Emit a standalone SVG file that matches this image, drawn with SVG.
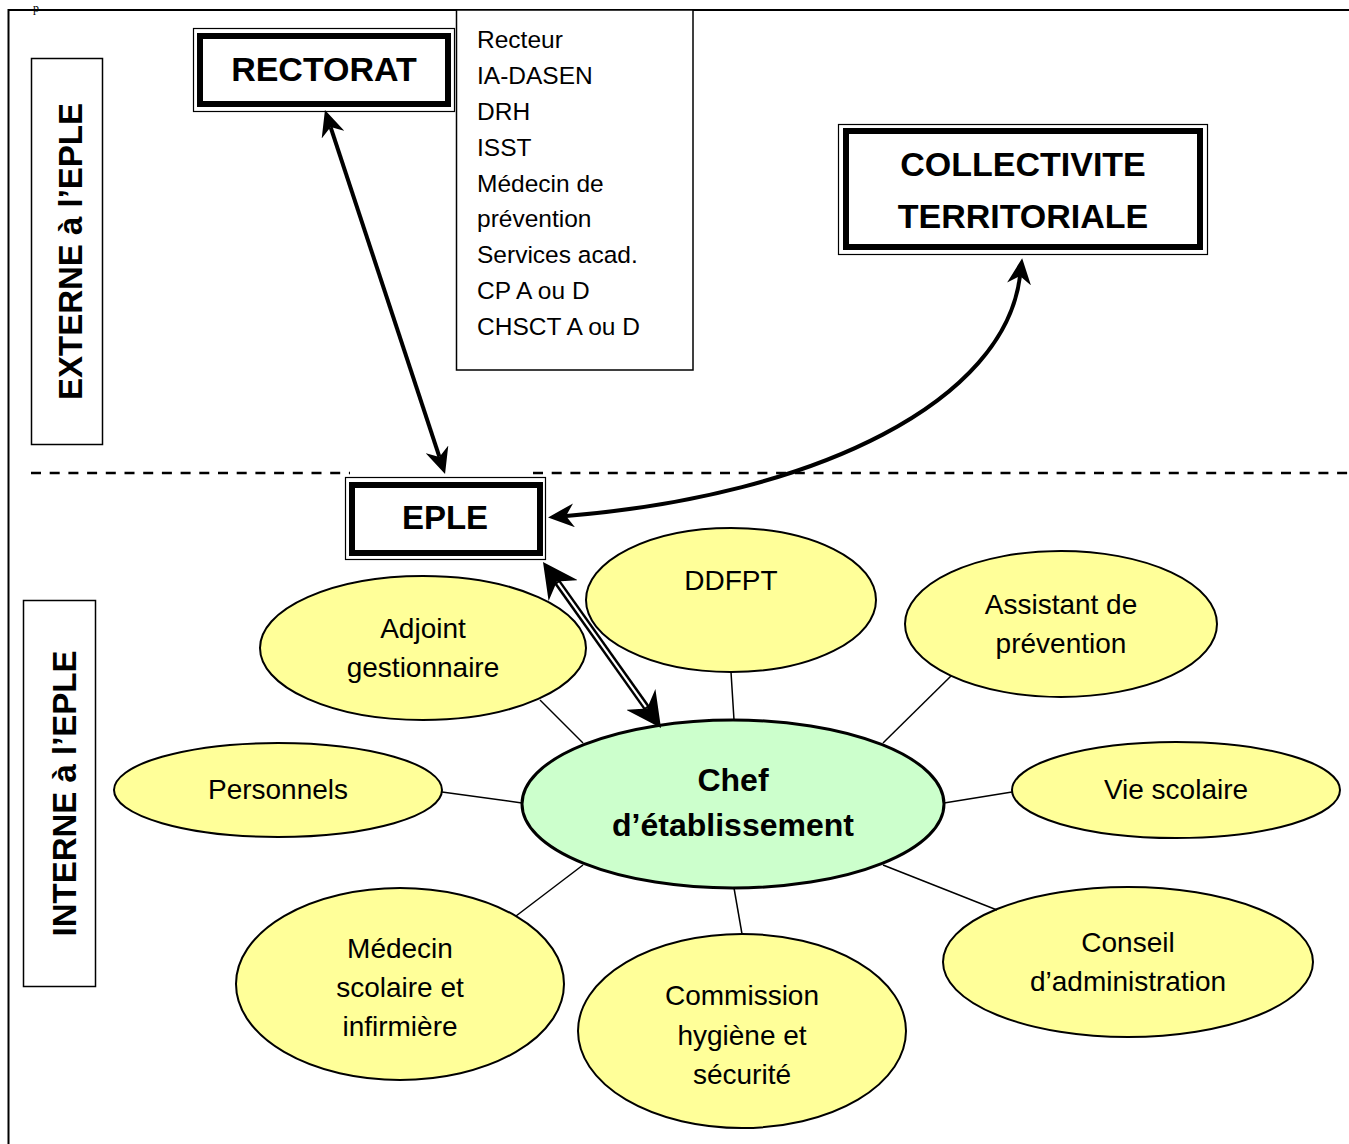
<svg xmlns="http://www.w3.org/2000/svg" width="1349" height="1144" viewBox="0 0 1349 1144">
<defs>
<style>
.t{font-family:"Liberation Sans",Arial,sans-serif;font-size:28px;text-anchor:middle;fill:#000}
.lst{font-family:"Liberation Sans",Arial,sans-serif;font-size:24.5px;fill:#000}
.b{font-weight:bold}
.s32{font-size:32px}
.s33{font-size:33px}
.s34{font-size:34px}
.ell{fill:#ffff99;stroke:#000;stroke-width:2}
.chef{fill:#ccffcc;stroke:#000;stroke-width:3}
.thin{fill:none;stroke:#000;stroke-width:1.5}
.box{fill:#fff;stroke:#000;stroke-width:1.5}
.dbl-out{fill:#fff;stroke:#000;stroke-width:1.2}
.dbl-in{fill:none;stroke:#000;stroke-width:6}
.frame{fill:none;stroke:#000;stroke-width:2}
.dash{fill:none;stroke:#000;stroke-width:2.5;stroke-dasharray:10 8.7}
.arr{fill:none;stroke:#000;stroke-width:4}
</style>
<marker id="ah" viewBox="0 0 26 24" markerUnits="userSpaceOnUse" markerWidth="26" markerHeight="24" refX="8" refY="12" orient="auto-start-reverse">
<path d="M0,0 L26,12 L0,24 L8,12 z" fill="#000"/>
</marker>
<marker id="ahBig" viewBox="0 0 35 36" markerUnits="userSpaceOnUse" markerWidth="35" markerHeight="36" refX="11" refY="18" orient="auto-start-reverse">
<path d="M0,0 L35,18 L0,36 L11,18 z" fill="#000"/>
</marker>
</defs>
<rect x="0" y="0" width="1349" height="1144" fill="#fff"/>
<text x="33" y="12" font-family="Liberation Serif,serif" font-size="12">p</text>
<path class="frame" d="M8.5,1144 V10 H1349"/>
<line class="dash" x1="31" y1="473" x2="350" y2="473"/>
<line class="dash" x1="533" y1="473" x2="1349" y2="473"/>

<g id="externe">
<rect class="box" x="31.5" y="58.5" width="71" height="386"/>
<text class="t b s33" transform="translate(82,251.5) rotate(-90)">EXTERNE à l’EPLE</text>
</g>
<g id="interne">
<rect class="box" x="23.5" y="600.5" width="72" height="386"/>
<text class="t b s33" transform="translate(76,793.5) rotate(-90)">INTERNE à l’EPLE</text>
</g>

<g id="liste">
<rect class="box" x="456.5" y="10" width="236.5" height="360"/>
<text class="lst" x="477" y="48">Recteur</text>
<text class="lst" x="477" y="84">IA-DASEN</text>
<text class="lst" x="477" y="120">DRH</text>
<text class="lst" x="477" y="156">ISST</text>
<text class="lst" x="477" y="192">Médecin de</text>
<text class="lst" x="477" y="227">prévention</text>
<text class="lst" x="477" y="263">Services acad.</text>
<text class="lst" x="477" y="299">CP A ou D</text>
<text class="lst" x="477" y="335">CHSCT A ou D</text>
</g>

<g id="rectorat">
<rect class="dbl-out" x="193.5" y="28.5" width="261" height="83"/>
<rect class="dbl-in" x="200" y="36" width="248" height="68"/>
<text class="t b s34" x="324" y="81">RECTORAT</text>
</g>
<g id="collectivite">
<rect class="dbl-out" x="838.5" y="124.5" width="369" height="130"/>
<rect class="dbl-in" x="846" y="131" width="354" height="116"/>
<text class="t b s34" x="1023" y="176">COLLECTIVITE</text>
<text class="t b s34" x="1023" y="228">TERRITORIALE</text>
</g>
<g id="eple">
<rect class="dbl-out" x="345.5" y="477.5" width="200" height="82"/>
<rect class="dbl-in" x="352" y="485" width="188" height="68"/>
<text class="t b s33" x="445" y="529">EPLE</text>
</g>

<g id="adjoint">
<ellipse class="ell" cx="423" cy="648" rx="163" ry="72"/>
<text class="t" x="423" y="638">Adjoint</text>
<text class="t" x="423" y="677">gestionnaire</text>
</g>
<g id="ddfpt">
<ellipse class="ell" cx="731" cy="600" rx="145" ry="72"/>
<text class="t" x="731" y="590">DDFPT</text>
</g>
<g id="assistant">
<ellipse class="ell" cx="1061" cy="624" rx="156" ry="73"/>
<text class="t" x="1061" y="614">Assistant de</text>
<text class="t" x="1061" y="653">prévention</text>
</g>
<g id="personnels">
<ellipse class="ell" cx="278" cy="790" rx="164" ry="47"/>
<text class="t" x="278" y="799">Personnels</text>
</g>
<g id="viescolaire">
<ellipse class="ell" cx="1176" cy="790" rx="164" ry="48"/>
<text class="t" x="1176" y="799">Vie scolaire</text>
</g>
<g id="medecin">
<ellipse class="ell" cx="400" cy="984" rx="164" ry="96"/>
<text class="t" x="400" y="958">Médecin</text>
<text class="t" x="400" y="997">scolaire et</text>
<text class="t" x="400" y="1036">infirmière</text>
</g>
<g id="commission">
<ellipse class="ell" cx="742" cy="1031" rx="164" ry="97"/>
<text class="t" x="742" y="1005">Commission</text>
<text class="t" x="742" y="1045">hygiène et</text>
<text class="t" x="742" y="1084">sécurité</text>
</g>
<g id="conseil">
<ellipse class="ell" cx="1128" cy="962" rx="185" ry="75"/>
<text class="t" x="1128" y="952">Conseil</text>
<text class="t" x="1128" y="991">d’administration</text>
</g>
<g id="chef">
<ellipse class="chef" cx="733" cy="804" rx="211" ry="84"/>
<text class="t b s32" x="733" y="791">Chef</text>
<text class="t b s32" x="733" y="836">d’établissement</text>
</g>

<g id="connectors">
<line class="thin" x1="540" y1="700" x2="583" y2="743"/>
<line class="thin" x1="731" y1="672" x2="734" y2="720"/>
<line class="thin" x1="951" y1="676" x2="883" y2="743"/>
<line class="thin" x1="442" y1="792" x2="522" y2="803"/>
<line class="thin" x1="1012" y1="792" x2="944" y2="803"/>
<line class="thin" x1="516" y1="916" x2="583" y2="865"/>
<line class="thin" x1="742" y1="934" x2="734" y2="888"/>
<line class="thin" x1="997" y1="910" x2="883" y2="865"/>
<line class="arr" x1="330.6" y1="127.1" x2="439.4" y2="456.9" marker-start="url(#ah)" marker-end="url(#ah)"/>
<path class="arr" d="M566,516 C820,495 1005,400 1020,276" marker-start="url(#ah)" marker-end="url(#ah)"/>
<line stroke="#000" stroke-width="7" x1="556.9" y1="581.6" x2="647.1" y2="708.4" marker-start="url(#ahBig)" marker-end="url(#ahBig)"/>
<line stroke="#fff" stroke-width="2.2" x1="558.1" y1="583.2" x2="645.9" y2="706.8"/>
</g>
</svg>
